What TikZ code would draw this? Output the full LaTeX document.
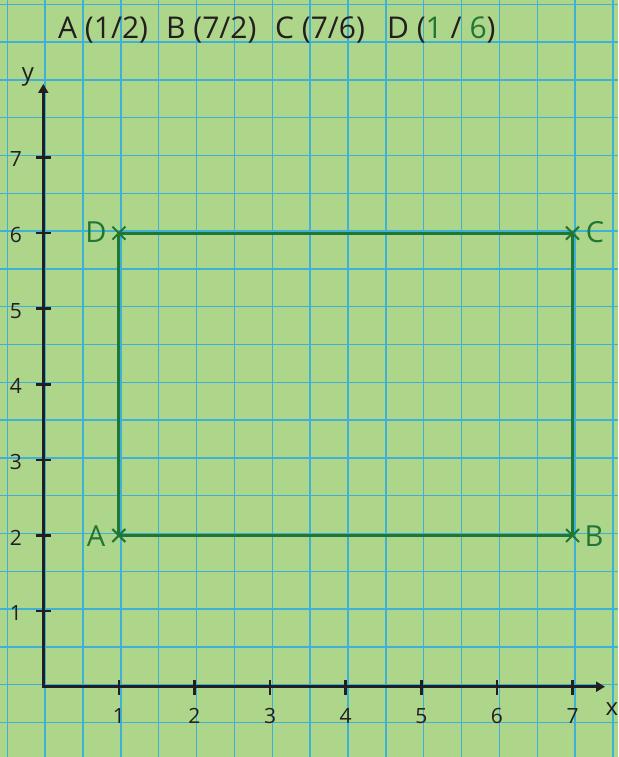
\documentclass[tikz,border=0pt]{standalone}
\usepackage{fontspec}
\setmainfont{Open Sans}
\usetikzlibrary{arrows.meta,shapes.misc}
\definecolor{bg}{RGB}{174,214,138}
\definecolor{gridc}{RGB}{62,178,214}
\definecolor{ink}{RGB}{35,31,32}
\definecolor{dgreen}{RGB}{32,118,52}
\begin{document}
\begin{tikzpicture}[x=1pt,y=-1pt,
 axis/.style={ink,line width=3pt},
 tickmark/.style={ink,line width=2.6pt},
 gridline/.style={gridc,line width=1.4pt},
 shapeline/.style={dgreen,line width=3pt},
 crossmark/.style={dgreen,draw,cross out,line width=2pt,minimum size=11pt,inner sep=0pt},
 titletxt/.style={ink,anchor=base west,inner sep=0pt,font=\fontsize{30}{36}\selectfont},
 ticklbl/.style={ink,inner sep=0pt,font=\fontsize{21}{25}\selectfont},
 axlbl/.style={ink,inner sep=0pt,anchor=base,font=\fontsize{24}{28}\selectfont},
 ptlbl/.style={dgreen,inner sep=0pt,font=\fontsize{29}{34}\selectfont}]
\fill[bg] (0,0) rectangle (618,757);
\useasboundingbox (0,0) rectangle (618,757);
\foreach \k in {0,...,16} \draw[gridline] ({7.3+37.85*\k},0) -- ({7.3+37.85*\k},757);
\foreach \k in {0,...,20} \draw[gridline] (0,{4.3+37.8*\k}) -- (618,{4.3+37.8*\k});
% title
\node[titletxt] (tA) at (58,39) {A (1/2)};
\node[titletxt] (tB) at (166,39) {B (7/2)};
\node[titletxt] (tC) at (275,39) {C (7/6)};
\node[titletxt] (tD) at (387,39) {D (\textcolor{dgreen}{1} / \textcolor{dgreen}{6})};
% axes
\coordinate (O) at (43.3,686.7);
\coordinate (xe) at (605,686.7);
\coordinate (ye) at (43.3,84);
\draw[axis,{Triangle[length=9pt,width=10pt]}-{Triangle[length=9pt,width=10pt]}] (ye) -- (O) -- (xe);
\foreach \i in {1,...,7} {
  \draw[tickmark] ({43.3+75.6*\i},679.5) -- ++(0,15);
  \node[ticklbl] (xl\i) at ({43.3+75.6*\i},716) {\i};
  \draw[tickmark] (35.5,{686.7-75.6*\i}) -- ++(15,0);
  \node[ticklbl] (yl\i) at (16,{686.7-75.6*\i+2}) {\i};
}
\node[axlbl] (xlab) at (612,715) {x};
\node[axlbl] (ylab) at (28,81) {y};
% rectangle
\coordinate (A) at (118.9,535.5);
\coordinate (B) at (572.5,535.5);
\coordinate (C) at (572.5,233.1);
\coordinate (D) at (118.9,233.1);
\draw[shapeline] (A) -- (B) -- (C) -- (D) -- cycle;
\node[crossmark] (cA) at (A) {};
\node[crossmark] (cB) at (B) {};
\node[crossmark] (cC) at (C) {};
\node[crossmark] (cD) at (D) {};
\node[ptlbl] (lA) at (96,536) {A};
\node[ptlbl] (lB) at (594,536) {B};
\node[ptlbl] (lC) at (595,232) {C};
\node[ptlbl] (lD) at (96,232) {D};
\end{tikzpicture}
\end{document}
